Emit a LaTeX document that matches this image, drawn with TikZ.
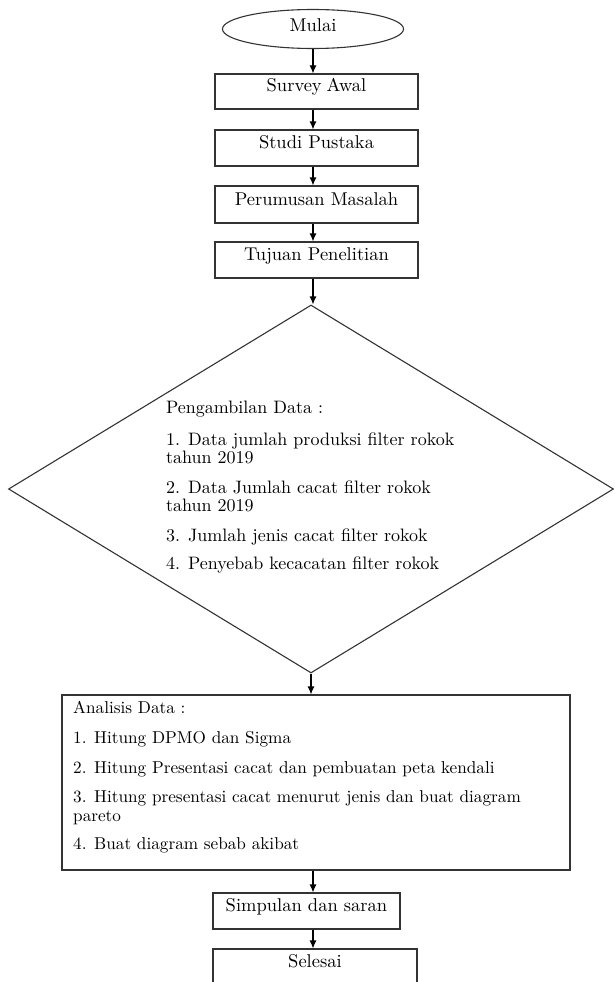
\documentclass[tikz,border=0pt]{standalone}
\usepackage{fontspec}
\setmainfont{lmroman10-regular.otf}
\usetikzlibrary{shapes.geometric,arrows.meta}
\begin{document}
\begin{tikzpicture}[x=1pt,y=-1pt,
  every node/.style={font=\fontsize{18.5}{19}\selectfont, text=black},
  shp/.style={draw=black!80, line width=1.1pt, inner sep=0pt},
  box/.style={shp, rectangle, text height=12pt, text depth=11pt},
  blk/.style={anchor=north west, align=left, inner sep=0pt},
  arr/.style={draw=black, line width=1.1pt, -{Latex[length=8pt,width=7pt]}}]
\useasboundingbox (0,0) rectangle (614,982);
\clip (0,0) rectangle (614,982);

\node[shp, ellipse, minimum width=181pt, minimum height=39pt, text height=12pt, text depth=7pt] (mulai) at (313,29) {Mulai};
\node[box, minimum width=203pt, minimum height=35pt] (survey) at (316.5,91.5) {Survey\hspace{5pt}Awal};
\node[box, minimum width=203pt, minimum height=36pt] (studi) at (316.5,148) {Studi Pustaka};
\node[box, minimum width=203pt, minimum height=37pt] (rumus) at (316.5,204.5) {Perumusan Masalah};
\node[box, minimum width=203pt, minimum height=36pt] (tujuan) at (316.5,260) {Tujuan Penelitian};

\node[shp, diamond, minimum width=605pt, minimum height=368pt] (ambil) at (311,489) {};
\node[blk, font=\fontsize{18}{18}\selectfont] (ambiltext) at (166,401) {Pengambilan Data :\\[14pt]
1. Data jumlah produksi filter rokok\\
tahun 2019\\[12pt]
2. Data Jumlah cacat filter rokok\\
tahun 2019\\[12pt]
3. Jumlah jenis cacat filter rokok\\[10pt]
4. Penyebab kecacatan filter rokok};

\node[shp, rectangle, minimum width=508pt, minimum height=175pt] (analisis) at (316,782.5) {};
\node[blk, font=\fontsize{17.2}{19}\selectfont] (anatext) at (73,700.5) {Analisis Data :\\[11pt]
1. Hitung DPMO dan Sigma\\[11pt]
2. Hitung Presentasi cacat dan pembuatan peta kendali\\[10pt]
3. Hitung presentasi cacat menurut jenis dan buat diagram\\
pareto\\[9pt]
4. Buat diagram sebab akibat};

\node[box, minimum width=187pt, minimum height=36pt] (simpulan) at (306.5,911) {Simpulan dan saran};
\node[box, minimum width=204pt, minimum height=42pt, text height=11pt, text depth=16pt] (selesai) at (315,970) {Selesai};

\draw[arr] (mulai.south) -- (mulai.south |- survey.north);
\draw[arr] (mulai.south |- survey.south) -- (mulai.south |- studi.north);
\draw[arr] (mulai.south |- studi.south) -- (mulai.south |- rumus.north);
\draw[arr] (mulai.south |- rumus.south) -- (mulai.south |- tujuan.north);
\draw[arr] (mulai.south |- tujuan.south) -- (mulai.south |- ambil.north);
\draw[arr] (ambil.south) -- (ambil.south |- analisis.north);
\draw[arr] (mulai.south |- analisis.south) -- (mulai.south |- simpulan.north);
\draw[arr] (mulai.south |- simpulan.south) -- (mulai.south |- selesai.north);
\end{tikzpicture}
\end{document}
